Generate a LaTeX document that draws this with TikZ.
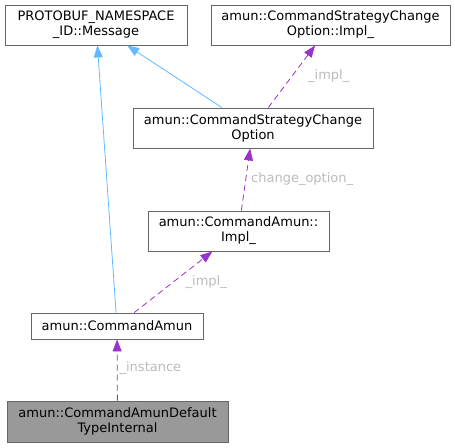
\documentclass[tikz,border=0pt]{standalone}
\usepackage{fontspec}
\setmainfont{DejaVu Sans}
\usetikzlibrary{arrows.meta}
\definecolor{useblue}{HTML}{63B8FF}
\definecolor{usepurple}{HTML}{9A32CD}
\definecolor{boxgray}{HTML}{666666}
\definecolor{labelgray}{HTML}{BBBBBB}
\definecolor{curgray}{HTML}{999999}

\begin{document}
\begin{tikzpicture}[x=1pt, y=-1pt, ->, >={Triangle[length=12pt,width=9pt]},
                    line width=0.8pt,
                    every node/.style={font=\fontsize{13}{15}\selectfont},
                    cls/.style={draw=boxgray, fill=white, align=center, inner sep=0pt,
                                minimum height=40pt, line width=0.9pt},
                    cur/.style={cls, fill=curgray},
                    inherit/.style={draw=useblue},
                    member/.style={draw=usepurple, dash pattern=on 6pt off 4pt},
                    lbl/.style={text=labelgray, inner sep=2pt}]
    \useasboundingbox (0,0) rectangle (455,447);
    \node[cls, minimum width=182pt] (msg) at (96,25) {PROTOBUF\_NAMESPACE\\\_ID::Message};
    \node[cls, minimum width=239pt] (optimpl) at (330.5,25) {amun::CommandStrategyChange\\Option::Impl\_};
    \node[cls, minimum width=240pt] (option) at (253,128) {amun::CommandStrategyChange\\Option};
    \node[cls, minimum width=181pt] (amunimpl) at (238.5,231) {amun::CommandAmun::\\Impl\_};
    \node[cls, minimum width=172pt, minimum height=26pt] (amun) at (117,326) {amun::CommandAmun};
    \node[cur, minimum width=221pt, minimum height=41pt] (deftype) at (117.5,421.5) {amun::CommandAmunDefault\\TypeInternal};
    \path
      (amun) edge[inherit] (msg)
      (option) edge[inherit] (msg)
      (option) edge[member] node[lbl, right, xshift=14pt] {\_impl\_} (optimpl)
      (amunimpl) edge[member] node[lbl, right, xshift=3pt] {change\_option\_} (option)
      (amun) edge[member] node[lbl, right, xshift=10pt] {\_impl\_} (amunimpl)
      (deftype) edge[member] node[lbl, right, yshift=2pt] {\_instance} (amun);
  \end{tikzpicture}
\end{document}
